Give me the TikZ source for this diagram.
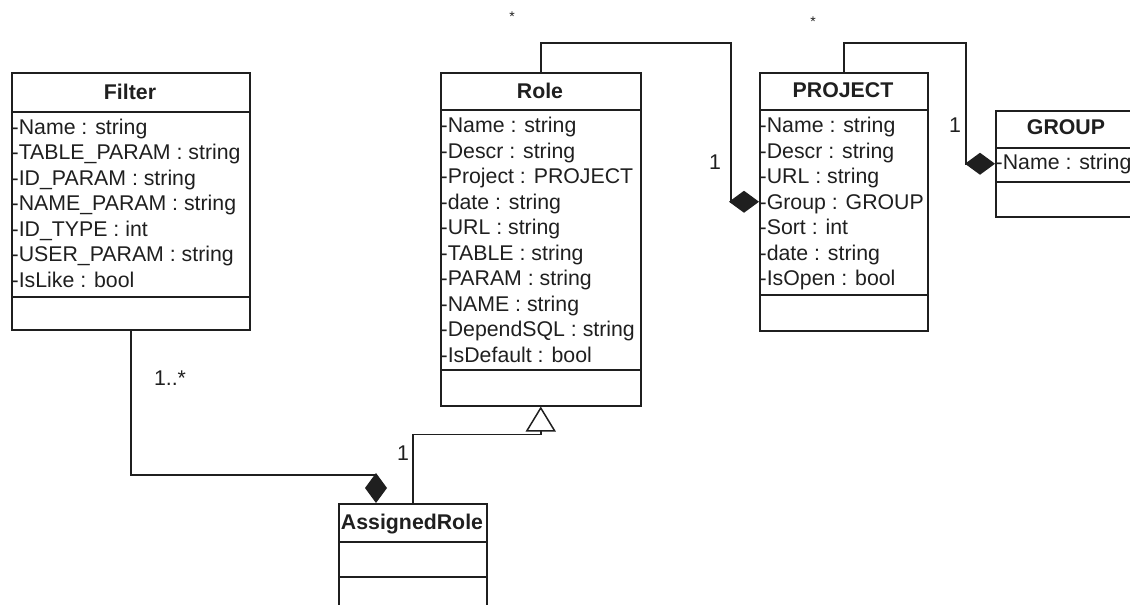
\documentclass[tikz,border=0pt]{standalone}
\usepackage{fontspec}
\setmainfont{Liberation Sans}
\usetikzlibrary{arrows.meta}
\definecolor{ink}{gray}{0.12}
\tikzset{
  classbox/.style={draw=ink, line width=1.5pt, inner sep=0pt, anchor=north west},
  attr/.style={anchor=base west, inner sep=0pt, font=\fontsize{21.3}{25.5}\selectfont, text=ink},
  ttl/.style={anchor=base, inner sep=0pt, font=\bfseries\fontsize{21.3}{25.5}\selectfont, text=ink},
  lbl/.style={inner sep=0pt, font=\fontsize{21.3}{25.5}\selectfont, text=ink},
  starlbl/.style={inner sep=0pt, font=\fontsize{14}{15}\selectfont, text=ink},
  divider/.style={draw=ink, line width=1.5pt},
  conn/.style={draw=ink, line width=1.5pt},
  compo/.style={-{Diamond[length=30pt,width=22pt,fill=ink]}},
  gener/.style={-{Triangle[open,length=25pt,width=30pt]}},
}
\begin{document}
\begin{tikzpicture}[x=1pt,y=-1pt]
\useasboundingbox (0,0) rectangle (1130,605);

% ---------- Filter ----------
\node[classbox, minimum width=238, minimum height=257] (filter) at (11,72) {};
\draw[divider] (11,112) -- (249,112);
\draw[divider] (11,297) -- (249,297);
\node[ttl] (filter-t) at (130,99.6) {Filter};
\foreach \t [count=\i] in {-Name : string, -TABLE\_PARAM : string, -ID\_PARAM : string, -NAME\_PARAM : string, -ID\_TYPE : int, -USER\_PARAM : string, -IsLike : bool}
  \node[attr] (filter-\i) at (11.5,{134+(\i-1)*25.5}) {\t};

% ---------- Role ----------
\node[classbox, minimum width=200, minimum height=333] (role) at (440,72) {};
\draw[divider] (440,110) -- (640,110);
\draw[divider] (440,370) -- (640,370);
\node[ttl] (role-t) at (540,98.5) {Role};
\foreach \t [count=\i] in {-Name : string, -Descr : string, -Project : PROJECT, -date : string, -URL : string, -TABLE : string, -PARAM : string, -NAME : string, -DependSQL : string, -IsDefault : bool}
  \node[attr] (role-\i) at (440.5,{132.5+(\i-1)*25.5}) {\t};

% ---------- PROJECT ----------
\node[classbox, minimum width=168, minimum height=258] (project) at (759,72) {};
\draw[divider] (759,110) -- (927,110);
\draw[divider] (759,295) -- (927,295);
\node[ttl] (project-t) at (843,97.5) {PROJECT};
\foreach \t [count=\i] in {-Name : string, -Descr : string, -URL : string, -Group : GROUP, -Sort : int, -date : string, -IsOpen : bool}
  \node[attr] (project-\i) at (759.5,{132.5+(\i-1)*25.5}) {\t};

% ---------- GROUP ----------
\node[classbox, minimum width=142, minimum height=106] (group) at (995,110) {};
\draw[divider] (995,148) -- (1137,148);
\draw[divider] (995,182) -- (1137,182);
\node[ttl] (group-t) at (1066,134) {GROUP};
\node[attr] (group-1) at (995.5,169.5) {-Name : string};

% ---------- AssignedRole ----------
\node[classbox, minimum width=148, minimum height=130] (assigned) at (338,503) {};
\draw[divider] (338,542) -- (486,542);
\draw[divider] (338,577) -- (486,577);
\node[ttl] (assigned-t) at (412,529) {AssignedRole};

% ---------- connectors ----------
\coordinate (arTip) at (376,503);
\draw[conn, compo] (filter.south) |- ([yshift=28pt]arTip) -- (arTip);

\draw[conn, gener] (assigned.north) |- ([yshift=-28pt]role.south) -- (role.south);

\coordinate (rpA) at (731,43);
\draw[conn, compo] (role.north) |- (rpA) |- (project.west);

\coordinate (pgA) at (966,43);
\draw[conn, compo] (project.north) |- (pgA) |- (group.west);

% ---------- multiplicities ----------
\node[lbl] (m1) at (170,378) {1..*};
\node[lbl] (m2) at (403,453) {1};
\node[starlbl] (m3) at (512,17) {*};
\node[lbl] (m4) at (715,162) {1};
\node[starlbl] (m5) at (813,22) {*};
\node[lbl] (m6) at (955,125) {1};
\end{tikzpicture}
\end{document}
